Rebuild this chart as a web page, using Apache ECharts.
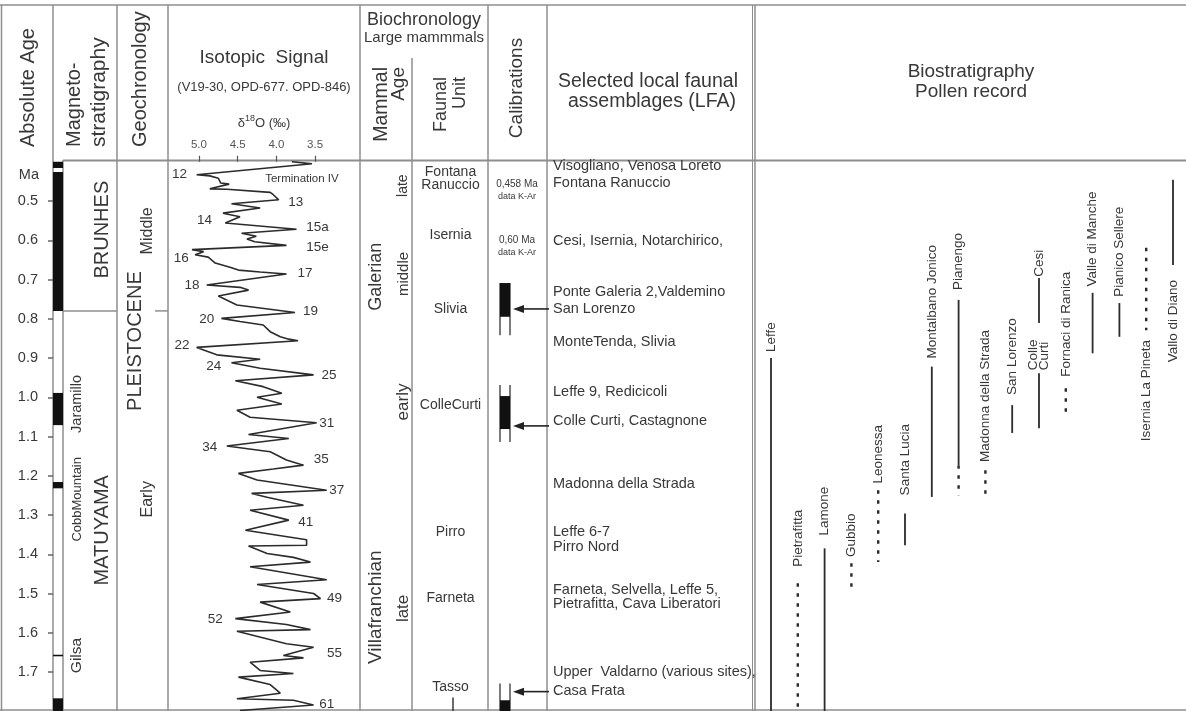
<!DOCTYPE html>
<html><head><meta charset="utf-8">
<script src="https://cdn.jsdelivr.net/npm/echarts@6/dist/echarts.min.js"></script>
<style>html,body{margin:0;padding:0;background:#fff}#c{width:1186px;height:711px}</style>
</head><body><div id="c"></div>
<script>
// ================= DATA =================
const ageTickValues = [0.5,0.6,0.7,0.8,0.9,1.0,1.1,1.2,1.3,1.4,1.5,1.6,1.7];
const isoTickValues = [3.5,4.0,4.5,5.0];

// Magnetostratigraphy: normal polarity intervals (Ma)
const polarityNormal = [[0.4,0.416],[0.426,0.78],[0.989,1.071],[1.216,1.232],[1.656,1.660],[1.767,1.8]];
const magnetoChrons = ['BRUNHES','MATUYAMA'];
const magnetoChronAges = [0.573, 1.339];
const magnetoSubchrons = ['Jaramillo','CobbMountain','Gilsa'];
const magnetoSubchronAges = [1.017, 1.26, 1.658];
const brunhesMatuyama = 0.78;

// Geochronology
const geoEpochs = ['PLEISTOCENE'];
const geoEpochAges = [0.857];
const geoStages = ['Middle','Early'];
const geoStageAges = [0.576, 1.26];

// Isotopic signal (d18O permil, age Ma)
const isoD18O = [3.80,3.54,5.03,4.86,4.75,4.72,4.61,4.86,4.64,4.08,4.04,3.97,4.58,4.21,4.69,4.47,4.66,3.74,4.45,4.26,4.38,4.28,3.87,
  5.09,4.94,5.05,4.88,4.79,4.60,4.49,4.21,3.87,4.90,4.47,4.36,4.75,4.51,3.76,4.71,4.47,4.17,4.08,3.95,3.84,3.72,5.03,
  4.77,4.21,4.58,4.21,3.52,4.53,4.17,3.93,4.25,3.93,4.51,4.34,3.48,4.36,3.84,4.64,4.08,3.87,3.65,4.04,4.49,4.25,3.35,
  4.32,4.12,3.65,4.34,3.84,4.40,3.61,3.61,4.36,4.12,3.78,3.56,4.34,3.35,4.25,3.52,3.43,4.21,3.82,4.53,3.87,3.56,4.51,
  3.87,3.52,3.91,3.65,4.34,4.21,3.78,4.49,4.08,3.95,4.51,3.78,3.52,4.47];
const isoAges = [0.400,0.405,0.433,0.436,0.442,0.454,0.457,0.469,0.470,0.478,0.484,0.497,0.507,0.518,0.531,0.540,0.556,0.572,0.582,0.590,0.597,0.604,0.613,
  0.624,0.629,0.637,0.643,0.658,0.669,0.676,0.681,0.686,0.714,0.720,0.727,0.742,0.765,0.784,0.799,0.807,0.816,0.833,0.846,0.852,0.856,0.873,
  0.892,0.903,0.912,0.926,0.943,0.958,0.973,0.990,1.000,1.017,1.033,1.051,1.065,1.095,1.105,1.124,1.139,1.160,1.173,1.183,1.194,1.211,1.237,
  1.245,1.255,1.275,1.288,1.313,1.339,1.363,1.377,1.379,1.398,1.408,1.420,1.432,1.465,1.477,1.500,1.513,1.522,1.547,1.564,1.579,1.592,1.596,
  1.628,1.637,1.658,1.664,1.675,1.696,1.704,1.713,1.732,1.754,1.768,1.772,1.784,1.798];
// Marine isotope stage labels
const stageLabels = ['12','Termination IV','13','14','15a','15e','16','17','18','19','20','22','24','25','31','34','35','37','41','49','52','55','61'];
const stageLabelD18O = [5.25,3.67,3.75,4.93,3.47,3.47,5.23,3.63,5.09,3.56,4.90,5.22,4.81,3.32,3.35,4.86,3.42,3.22,3.62,3.25,4.79,3.25,3.35];
const stageLabelAges = [0.433,0.443,0.502,0.548,0.568,0.617,0.645,0.683,0.716,0.781,0.801,0.867,0.920,0.943,1.066,1.128,1.158,1.237,1.319,1.513,1.566,1.653,1.783];

// Biochronology
const mammalAges = ['Galerian','Villafranchian'];
const mammalAgeAges = [0.693, 1.535];
const mammalSubAges = ['late','middle','early','late'];
const mammalSubAgeAges = [0.461, 0.686, 1.012, 1.538];
const faunalUnits = ['Fontana\nRanuccio','Isernia','Slivia','ColleCurti','Pirro','Farneta','Tasso'];
const faunalUnitAges = [0.443, 0.586, 0.775, 1.02, 1.344, 1.512, 1.739];
const tassoRange = [1.765, 1.8];

// Calibrations
const calibDates = ['0,458 Ma','0,60 Ma'];
const calibDateAges = [0.458, 0.60];
const calibMethod = 'data K-Ar';
// [outline top, black top, black bottom, outline bottom, arrow age]
const calibBars = [[0.709,0.709,0.795,0.842,0.775],[0.969,0.997,1.081,1.114,1.073],[1.729,1.772,1.8,1.8,1.75]];

// Selected local faunal assemblages
const lfaNames = ['Visogliano, Venosa Loreto','Fontana Ranuccio','Cesi, Isernia, Notarchirico,','Ponte Galeria 2,Valdemino','San Lorenzo',
  'MonteTenda, Slivia','Leffe 9, Redicicoli','Colle Curti, Castagnone','Madonna della Strada','Leffe 6-7','Pirro Nord',
  'Farneta, Selvella, Leffe 5,','Pietrafitta, Cava Liberatori','Upper  Valdarno (various sites),','Casa Frata'];
const lfaAges = [0.412,0.454,0.603,0.733,0.775,0.858,0.986,1.06,1.221,1.343,1.381,1.49,1.528,1.70,1.749];

// Pollen record
const pollenSites = ['Leffe','Pietrafitta','Lamone','Gubbio','Leonessa','Santa Lucia','Montalbano Jonico','Pianengo',
  'Madonna della Strada','San Lorenzo','Cesi / Colle Curti','Fornaci di Ranica','Valle di Manche','Pianico Sellere','Isernia La Pineta','Vallo di Diano'];
// [site index, top age, bottom age, dotted]
const pollenSegments = [[0,0.900,1.800,0],[1,1.474,1.795,1],[2,1.385,1.800,0],[3,1.423,1.484,1],[4,1.237,1.420,1],[5,1.296,1.377,0],
  [6,0.922,1.254,0],[7,0.752,1.173,0],[7,1.173,1.250,1],[8,1.186,1.250,1],[9,1.020,1.091,0],[10,0.696,0.811,0],[10,0.939,1.079,0],
  [11,0.977,1.050,1],[12,0.734,0.888,0],[13,0.760,0.846,0],[14,0.619,0.829,1],[15,0.446,0.663,0]];
const pollenLabelNames = ['Leffe','Pietrafitta','Lamone','Gubbio','Leonessa','Santa Lucia','Montalbano Jonico','Pianengo','Madonna della Strada',
  'San Lorenzo','Cesi','Colle\nCurti','Fornaci di Ranica','Valle di Manche','Pianico Sellere','Isernia La Pineta','Vallo di Diano'];
const pollenLabelSites = [0,1,2,3,4,5,6,7,8,9,10,10,11,12,13,14,15];
const pollenLabelAges = [0.885,1.432,1.352,1.407,1.220,1.250,0.901,0.727,1.165,0.994,0.693,0.931,0.948,0.718,0.744,0.854,0.701];
const pollenLabelSides = [1,1,1,1,1,1,1,1,1,1,1,1,1,1,1,-1,-1]; // 1: label above line, -1: below

// ================= LAYOUT / STYLE =================
const FONT = '"Liberation Sans", Arial, Helvetica, sans-serif';
const TEXT = '#383838', LINE = '#8e8e8e', INK = '#2b2b2b';
const TOP = 161.75, H = 549.5;
const colLayout = [[53,10],[63,54],[117,51],[168,192],[360,52],[412,76],[488,59],[547,208],[757.6,428.8]];

const grids = colLayout.map(([l,w]) => ({left:l, width:w, top:TOP, height:H, outerBoundsMode:'none', containLabel:false, show:false}));
const xAxes = colLayout.map((c,i) => ({type:'value', gridIndex:i, min:0, max:1, show:false}));
xAxes[3] = {type:'value', gridIndex:3, inverse:true, min:2.92, max:5.40, position:'top',
  axisLine:{show:false}, splitLine:{show:false},
  axisTick:{show:true, customValues:isoTickValues, length:6, inside:false, lineStyle:{color:'#555', width:1.2}},
  axisLabel:{show:true, customValues:isoTickValues, formatter:v=>v.toFixed(1), fontSize:11.5, color:'#555', margin:11, fontFamily:FONT}};
xAxes[8] = {type:'category', gridIndex:8, data:pollenSites, show:false};

const yAxes = colLayout.map((c,i) => ({type:'value', gridIndex:i, min:0.4, max:1.8, inverse:true, show:i===0,
  position:'left', axisLine:{show:false}, splitLine:{show:false},
  axisTick:{show:true, customValues:ageTickValues, length:5, lineStyle:{color:'#666', width:1.5}},
  axisLabel:{show:true, customValues:ageTickValues, formatter:v=>v.toFixed(1), fontSize:14.5, color:TEXT, margin:15, fontFamily:FONT}}));

function textSeries(gi, names, ages, st) {
  return {type:'custom', xAxisIndex:gi, yAxisIndex:gi, silent:true, z:5, clip:false,
    data: ages.map(a => [0, a]),
    renderItem(params, api) {
      const cs = params.coordSys, i = params.dataIndex;
      const y = api.coord([0, api.value(1)])[1];
      const fs = Array.isArray(st.size) ? st.size[i] : st.size;
      return {type:'text', x: cs.x + st.dx, y: y, rotation: st.rotate ? Math.PI/2 : 0,
        style:{text:names[i], fill:TEXT, fontSize:fs, fontFamily:FONT, align:st.align||'center', verticalAlign:'middle',
          lineHeight: st.lh || Math.round(fs*1.05)}};
    }};
}
function hLineSeries(gi, value, fromDx) {
  return {type:'custom', xAxisIndex:gi, yAxisIndex:gi, silent:true, clip:false, data:[[0, value]],
    renderItem(p, api) { const cs = p.coordSys; const y = api.coord([0, api.value(1)])[1];
      return {type:'line', shape:{x1:cs.x+fromDx, y1:y, x2:cs.x+cs.width, y2:y}, style:{stroke:LINE, lineWidth:1.5}}; }};
}

const series = [
  // polarity column
  {type:'custom', xAxisIndex:0, yAxisIndex:0, silent:true, clip:false, encode:{x:0, y:[1,2]},
    data: polarityNormal.map(([a,b]) => [0,a,b]),
    renderItem(p, api) { const cs = p.coordSys;
      const y1 = api.coord([0, api.value(1)])[1], y2 = api.coord([0, api.value(2)])[1];
      return {type:'rect', shape:{x:cs.x, y:y1, width:cs.width, height:Math.max(1.5, y2-y1)}, style:{fill:'#111'}}; }},
  hLineSeries(1, brunhesMatuyama, 0),
  hLineSeries(2, brunhesMatuyama, 38),
  textSeries(1, magnetoChrons, magnetoChronAges, {dx:39.5, rotate:true, size:20}),
  textSeries(1, magnetoSubchrons, magnetoSubchronAges, {dx:14, rotate:true, size:[14.5,13,15.5]}),
  textSeries(2, geoEpochs, geoEpochAges, {dx:18.5, rotate:true, size:20}),
  textSeries(2, geoStages, geoStageAges, {dx:30.5, rotate:true, size:16}),
  // isotopic curve
  {type:'line', xAxisIndex:3, yAxisIndex:3, data: isoAges.map((a,i) => [isoD18O[i], a]), symbol:'none', showSymbol:false,
    silent:true, z:3, lineStyle:{color:INK, width:1.6}},
  {type:'custom', xAxisIndex:3, yAxisIndex:3, silent:true, clip:false, z:5,
    data: stageLabelAges.map((a,i) => [stageLabelD18O[i], a]),
    renderItem(p, api) { const pt = api.coord([api.value(0), api.value(1)]); const t = stageLabels[p.dataIndex];
      return {type:'text', x:pt[0], y:pt[1], style:{text:t, fontSize: t.length>4 ? 11.5 : 13.5, fill:TEXT, fontFamily:FONT, align:'center', verticalAlign:'middle'}}; }},
  // biochronology
  textSeries(4, mammalAges, mammalAgeAges, {dx:16, rotate:true, size:[18,19]}),
  textSeries(4, mammalSubAges, mammalSubAgeAges, {dx:43.5, rotate:true, size:[14,15,17,17]}),
  textSeries(5, faunalUnits, faunalUnitAges, {dx:38.5, size:14, lh:13}),
  {type:'custom', xAxisIndex:5, yAxisIndex:5, silent:true, clip:false, data:[[0, tassoRange[0], tassoRange[1]]], encode:{x:0,y:[1,2]},
    renderItem(p, api) { const cs = p.coordSys; const x = cs.x + 41;
      return {type:'line', shape:{x1:x, y1:api.coord([0,api.value(1)])[1], x2:x, y2:api.coord([0,api.value(2)])[1]}, style:{stroke:INK, lineWidth:1.4}}; }},
  // calibrations
  {type:'custom', xAxisIndex:6, yAxisIndex:6, silent:true, clip:false, data: calibDateAges.map(a => [0,a]),
    renderItem(p, api) { const cs = p.coordSys; const y = api.coord([0, api.value(1)])[1]; const cx = cs.x + 29;
      return {type:'group', children:[
        {type:'text', x:cx, y:y, style:{text:calibDates[p.dataIndex], fontSize:10, fill:TEXT, fontFamily:FONT, align:'center', verticalAlign:'middle'}},
        {type:'text', x:cx, y:y+12.5, style:{text:calibMethod, fontSize:9, fill:TEXT, fontFamily:FONT, align:'center', verticalAlign:'middle'}}]}; }},
  {type:'custom', xAxisIndex:6, yAxisIndex:6, silent:true, clip:false, encode:{x:0, y:[1,2,3,4,5]},
    data: calibBars.map(b => [0].concat(b)),
    renderItem(p, api) { const cs = p.coordSys; const bx = cs.x + 12, bw = 10;
      const Y = k => api.coord([0, api.value(k)])[1];
      const yOT = Y(1), yBT = Y(2), yBB = Y(3), yOB = Y(4), yA = Y(5);
      const tip = bx + bw + 3, x0 = cs.x + cs.width + 2;
      return {type:'group', children:[
        {type:'line', shape:{x1:bx, y1:yOT, x2:bx, y2:yOB}, style:{stroke:'#333', lineWidth:1.3}},
        {type:'line', shape:{x1:bx+bw, y1:yOT, x2:bx+bw, y2:yOB}, style:{stroke:'#333', lineWidth:1.3}},
        {type:'rect', shape:{x:bx, y:yBT, width:bw, height:yBB-yBT}, style:{fill:'#111'}},
        {type:'line', shape:{x1:x0, y1:yA, x2:tip+8, y2:yA}, style:{stroke:'#222', lineWidth:1.6}},
        {type:'polygon', shape:{points:[[tip,yA],[tip+11,yA-4],[tip+11,yA+4]]}, style:{fill:'#222'}}]}; }},
  // LFA
  textSeries(7, lfaNames, lfaAges, {dx:6, align:'left', size:14.5}),
  // pollen record
  {type:'custom', xAxisIndex:8, yAxisIndex:8, silent:true, clip:false, encode:{x:0, y:[1,2]}, data: pollenSegments,
    renderItem(p, api) { const a = api.coord([api.value(0), api.value(1)]); const b = api.coord([api.value(0), api.value(2)]);
      const dotted = api.value(3) === 1;
      return {type:'line', shape:{x1:a[0], y1:a[1], x2:a[0], y2:b[1]},
        style:{stroke:INK, lineWidth: dotted ? 2.4 : 1.8, lineDash: dotted ? [3.5,6.5] : null}}; }},
  {type:'custom', xAxisIndex:8, yAxisIndex:8, silent:true, clip:false, z:5, encode:{x:0, y:1},
    data: pollenLabelSites.map((s,i) => [s, pollenLabelAges[i], pollenLabelSides[i]]),
    renderItem(p, api) { const pt = api.coord([api.value(0), api.value(1)]); const above = api.value(2) > 0;
      return {type:'text', x:pt[0], y:pt[1], rotation:Math.PI/2,
        style:{text:pollenLabelNames[p.dataIndex], fontSize:13.5, lineHeight:10.5, fill:TEXT, fontFamily:FONT,
          align: above ? 'left' : 'right', verticalAlign:'middle'}}; }}
];

// ================= FRAME & HEADER (graphic) =================
const G = [];
function vline(x, y1, y2, w) { G.push({type:'line', silent:true, shape:{x1:x, y1:y1, x2:x, y2:y2}, style:{stroke:LINE, lineWidth:w||1.5}}); }
function hline(x1, x2, y, w) { G.push({type:'line', silent:true, shape:{x1:x1, y1:y, x2:x2, y2:y}, style:{stroke:LINE, lineWidth:w||1.5}}); }
function txt(x, y, text, fs, align, rot, extra) {
  G.push({type:'text', silent:true, x:x, y:y, rotation: rot ? Math.PI/2 : 0,
    style:Object.assign({text:text, fontSize:fs, fontFamily:FONT, fill:TEXT, align:align||'center', verticalAlign:'middle'}, extra||{})});
}
hline(0, 1186, 5); hline(63, 1186, 160.5, 1.8); hline(0, 1186, 710);
vline(1.5, 5, 711); vline(53, 5, 711); vline(63, 160, 711); vline(117, 5, 711); vline(168, 5, 711);
vline(360, 5, 711); vline(412, 58, 711); vline(488, 5, 711); vline(547, 5, 711); vline(752.5, 5, 711, 1); vline(755, 5, 711);

txt(39, 175, 'Ma', 14.5, 'right');
txt(28, 147, 'Absolute Age', 20, 'left', true);
txt(74, 147, 'Magneto-', 20, 'left', true);
txt(99, 147, 'stratigraphy', 21, 'left', true);
txt(140, 147, 'Geochronology', 20, 'left', true);
txt(264, 58, 'Isotopic  Signal', 19);
txt(264, 87, '(V19-30, OPD-677. OPD-846)', 13);
G.push({type:'text', silent:true, x:264, y:122, style:{text:'{n|δ}{s|18}{n|O (‰)}', fontFamily:FONT, fill:TEXT, align:'center', verticalAlign:'middle',
  rich:{n:{fontSize:13, fontFamily:FONT, fill:TEXT, lineHeight:16, verticalAlign:'bottom'}, s:{fontSize:9, fontFamily:FONT, fill:TEXT, lineHeight:16, verticalAlign:'top'}}}});
txt(424, 20, 'Biochronology', 18);
txt(424, 38, 'Large mammmals', 15);
txt(382, 67, 'Mammal', 19.5, 'right', true);
txt(399, 67, 'Age', 19, 'right', true);
txt(441, 77, 'Faunal', 18, 'right', true);
txt(460, 77, 'Unit', 18, 'right', true);
txt(517, 88, 'Calibrations', 19, 'center', true);
txt(648, 82, 'Selected local faunal', 19.5);
txt(652, 102, 'assemblages (LFA)', 19.5);
txt(971, 72, 'Biostratigraphy', 19);
txt(971, 92, 'Pollen record', 19);

const chart = echarts.init(document.getElementById('c'), null, {renderer:'canvas'});
chart.setOption({
  animation:false, backgroundColor:'#fff',
  grid:grids, xAxis:xAxes, yAxis:yAxes, series:series,
  graphic:{elements:G}
});
</script></body></html>
